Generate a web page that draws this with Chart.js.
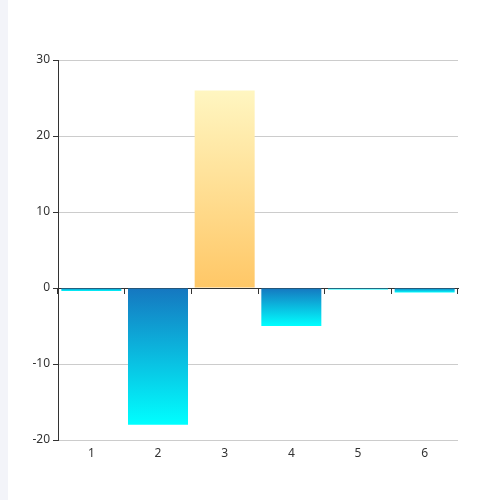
<!DOCTYPE html>
<html>
<head>
<meta charset="utf-8">
<script src="https://cdn.jsdelivr.net/npm/chart.js@4/dist/chart.umd.min.js"></script>
<style>
  html, body { margin: 0; padding: 0; background: #fff; }
  #strip { position: absolute; left: 0; top: 0; width: 8px; height: 500px; background: #f3f4f9; }
  #wrap { position: absolute; left: 0; top: 0; width: 500px; height: 500px; }
</style>
</head>
<body>
<div id="strip"></div>
<div id="wrap"><canvas id="c" width="500" height="500"></canvas></div>
<script>
const categories = ['1', '2', '3', '4', '5', '6'];
const values = [-0.4, -18, 26, -5, -0.2, -0.6];
const yTicks = { min: -20, max: 30, step: 10 };

const posColors = ['#fff6c1', '#ffc766'];   // top -> bottom
const negColors = ['#1577c0', '#00ffff'];   // top (zero) -> bottom

function barFill(c) {
  const chart = c.chart;
  const { ctx, chartArea, scales } = chart;
  if (!chartArea || c.dataIndex === undefined || !scales.y) return negColors[0];
  const v = c.raw;
  const y0 = scales.y.getPixelForValue(0);
  const y1 = scales.y.getPixelForValue(v);
  if (Math.abs(y1 - y0) < 0.5) return v >= 0 ? posColors[1] : negColors[0];
  const g = ctx.createLinearGradient(0, Math.min(y0, y1), 0, Math.max(y0, y1));
  if (v >= 0) {
    g.addColorStop(0, posColors[0]);
    g.addColorStop(1, posColors[1]);
  } else {
    g.addColorStop(0, negColors[0]);
    g.addColorStop(1, negColors[1]);
  }
  return g;
}

const font = { family: "'Noto Sans', 'DejaVu Sans', sans-serif", size: 12 };

new Chart(document.getElementById('c'), {
  type: 'bar',
  data: {
    labels: categories,
    datasets: [{
      data: values,
      backgroundColor: barFill,
      borderWidth: 0,
      barPercentage: 0.9,
      categoryPercentage: 1.0,
      xAxisID: 'x',
      yAxisID: 'y'
    }]
  },
  options: {
    responsive: false,
    animation: false,
    devicePixelRatio: 1,
    layout: { padding: { left: 0, right: 42, top: 60, bottom: 0 } },
    plugins: { legend: { display: false }, tooltip: { enabled: false } },
    scales: {
      x: {
        type: 'category',
        position: 'bottom',
        offset: true,
        grid: { display: false, drawTicks: false },
        border: { display: false },
        ticks: { color: '#333', font: font, padding: 6 },
        afterFit: (s) => { s.height = 60; }
      },
      x0: {
        type: 'category',
        position: { y: 0 },
        offset: true,
        z: 1,
        grid: { offset: true, drawOnChartArea: false, drawTicks: true, tickLength: 5, color: '#333', lineWidth: 1 },
        border: { display: true, color: '#333', width: 1 },
        ticks: { display: false }
      },
      y: {
        position: 'left',
        min: yTicks.min,
        max: yTicks.max,
        ticks: { stepSize: yTicks.step, color: '#333', font: font, padding: 3 },
        grid: { color: '#cccccc', tickColor: '#333', tickLength: 5, lineWidth: 1 },
        border: { display: true, color: '#333', width: 1 },
        afterFit: (s) => { s.width = 58; }
      }
    }
  }
});
</script>
</body>
</html>
